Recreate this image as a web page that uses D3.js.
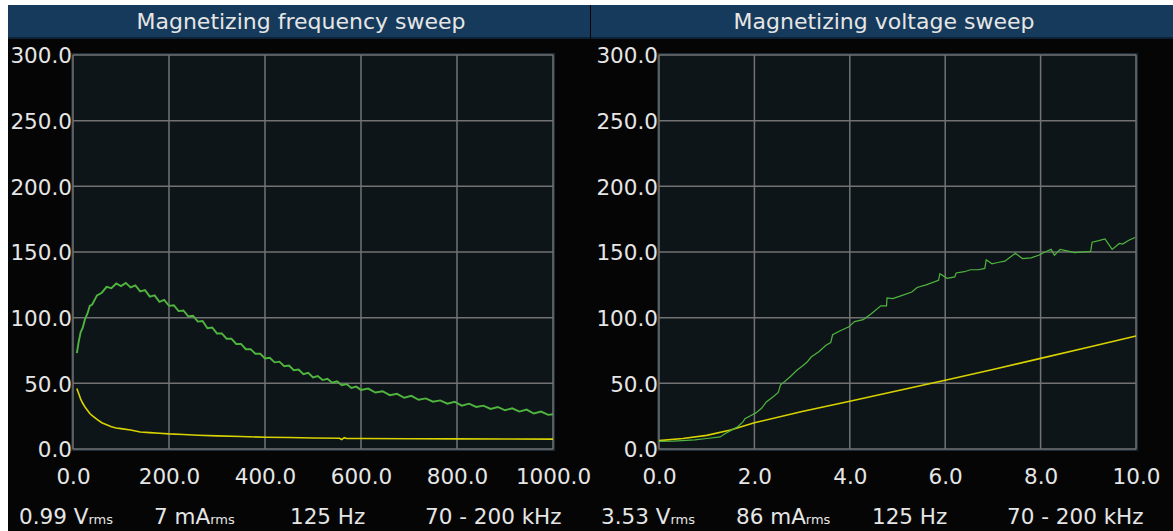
<!DOCTYPE html>
<html>
<head>
<meta charset="utf-8">
<script src="https://cdn.jsdelivr.net/npm/d3@7"></script>
<style>
  body { margin: 0; background: #fff; }
  svg { display: block; font-family: "DejaVu Sans", sans-serif; }
</style>
</head>
<body>
<svg id="canvas" width="1173" height="531"></svg>
<script>
// ---- data ----
let titles = ['Magnetizing frequency sweep', 'Magnetizing voltage sweep'];
let yTicks = [0, 50, 100, 150, 200, 250, 300];
let freqTicks = [0, 200, 400, 600, 800, 1000];
let voltTicks = [0, 2, 4, 6, 8, 10];

let freqGreenX = [8, 12, 16, 20, 25, 30, 35, 40, 50, 60, 70, 80, 90, 100, 110, 120, 130, 140, 150, 160,
    170, 180, 190, 200, 210, 220, 230, 240, 250, 260, 270, 280, 290, 300, 310, 320, 330, 340, 350, 360,
    370, 380, 390, 400, 410, 420, 430, 440, 450, 460, 470, 480, 490, 500, 510, 520, 530, 540, 550, 560,
    570, 580, 590, 600, 615, 630, 645, 660, 675, 690, 705, 720, 735, 750, 765, 780, 795, 810, 825, 840,
    855, 870, 885, 900, 915, 930, 945, 960, 975, 990, 1000];
let freqGreenY = [73, 82, 89, 92, 99, 103, 109, 110, 117, 119, 123.5, 122.5, 126, 124, 126.5, 123, 124.5, 120, 121, 116,
    117, 112, 113.5, 109, 109.5, 105, 105.5, 101, 101.5, 97, 97.5, 92, 92.5, 88, 88, 84, 84, 80, 80, 76,
    76, 72.5, 72.5, 69, 69.5, 66, 66.5, 63, 63.5, 60, 60.5, 57, 58, 54.5, 55.5, 52.5, 53.5, 50.5, 51.5, 48.5,
    49.5, 46.5, 47.5, 45, 46, 43, 44, 41, 42, 39, 40.5, 37.5, 38.5, 36, 37, 34.5, 36, 33, 34.5, 32,
    33, 30.5, 32, 29.5, 31, 28.5, 30, 27, 28.5, 26, 26.5];

let freqYellowX = [8, 12, 16, 20, 25, 30, 35, 40, 50, 60, 70, 80, 90, 100, 120, 140, 160, 180, 200, 230,
    260, 300, 350, 400, 450, 500, 555, 560, 565, 570, 600, 700, 800, 900, 1000];
let freqYellowY = [46, 42, 38, 35, 32, 29.5, 27, 25.5, 22.5, 20, 18.5, 17, 16, 15.5, 14.5, 13, 12.5, 12, 11.5, 11,
    10.5, 10, 9.5, 9, 8.7, 8.4, 8.2, 7.2, 8.6, 8, 8, 7.8, 7.7, 7.6, 7.5];

let voltGreenX = [0, 0.3, 0.75, 1.0, 1.28, 1.4, 1.5, 1.65, 1.76, 1.8, 1.9, 2.03, 2.15, 2.25, 2.4, 2.5, 2.55, 2.59,
    2.75, 2.89, 3.0, 3.1, 3.19, 3.35, 3.5, 3.6, 3.64, 3.8, 3.98, 4.1, 4.28, 4.45, 4.65, 4.77, 4.78, 4.9,
    5.1, 5.3, 5.41, 5.6, 5.86, 5.89, 6.04, 6.2, 6.23, 6.4, 6.53, 6.7, 6.83, 6.86, 6.98, 7.1, 7.25, 7.47,
    7.62, 7.8, 7.96, 8.15, 8.22, 8.29, 8.41, 8.6, 8.71, 9.05, 9.08, 9.2, 9.35, 9.5, 9.65, 9.72, 9.85, 9.98];
let voltGreenY = [5.8, 6, 7, 8, 9.2, 12, 14, 17, 20.6, 23, 25, 27.5, 31, 35.8, 40, 43, 49, 50,
    55, 60, 63, 66, 70, 74, 79, 81, 87, 90, 93, 97, 98.5, 103, 109, 109, 115, 114.5,
    117, 119.5, 123, 125, 128.5, 133.5, 130, 131, 134, 135, 136.5, 136.5, 137.5, 144, 141, 142, 143, 149,
    145, 145.5, 147.5, 151, 152, 147.5, 152, 150.5, 149.5, 150.5, 157.5, 158.5, 160, 152, 156.5, 156, 159, 161];

let voltYellowX = [0, 0.5, 1, 1.5, 2, 3, 4, 5, 6, 7, 8, 9, 10];
let voltYellowY = [6.4, 8, 10.4, 14.5, 20, 28.5, 36.4, 44.3, 52.4, 60.6, 69, 77.5, 86];

let infoFreq = [['0.99 V', 'rms'], ['7 mA', 'rms'], ['125 Hz', ''], ['70 - 200 kHz', '']];
let infoVolt = [['3.53 V', 'rms'], ['86 mA', 'rms'], ['125 Hz', ''], ['70 - 200 kHz', '']];

// ---- drawing ----
let canvas = d3.select('#canvas');
let textColor = '#e6e6e6';

canvas.append('rect')
    .attr('x', 8).attr('y', 5).attr('width', 1165).attr('height', 526)
    .attr('fill', '#050505');

let panels = [
    {title: titles[0], x0: 8, x1: 590, left: 73, right: 553, xMax: 1000, ticks: freqTicks, infoX: 0,
        info: infoFreq,
        green: d3.zip(freqGreenX, freqGreenY), yellow: d3.zip(freqYellowX, freqYellowY), greenW: 1.9},
    {title: titles[1], x0: 591, x1: 1173, left: 659, right: 1136, xMax: 10, ticks: voltTicks, infoX: 582,
        info: infoVolt,
        green: d3.zip(voltGreenX, voltGreenY), yellow: d3.zip(voltYellowX, voltYellowY), greenW: 1.2}
];

let plotTop = 55, plotBottom = 449;
let y = d3.scaleLinear().domain([0, 300]).range([plotBottom, plotTop]);

panels.forEach((p) => {
    // title bar
    canvas.append('rect')
        .attr('x', p.x0).attr('y', 5).attr('width', p.x1 - p.x0).attr('height', 33)
        .attr('fill', '#163a5b');
    canvas.append('rect')
        .attr('x', p.x0).attr('y', 37).attr('width', p.x1 - p.x0).attr('height', 2)
        .attr('fill', '#0d2236');
    canvas.append('text')
        .attr('x', (p.x0 + p.x1) / 2 + 2).attr('y', 29)
        .attr('text-anchor', 'middle')
        .attr('font-size', 22)
        .attr('fill', textColor)
        .text(p.title);

    let x = d3.scaleLinear().domain([0, p.xMax]).range([p.left, p.right]);

    // plot area
    canvas.append('rect')
        .attr('x', p.left - 1).attr('y', plotTop - 1)
        .attr('width', p.right - p.left + 2).attr('height', plotBottom - plotTop + 2)
        .attr('fill', '#0e1519')
        .attr('stroke', '#1b2c38').attr('stroke-width', 2);

    // grid
    let grid = canvas.append('g');
    grid.selectAll('line.v')
        .data(p.ticks)
        .enter()
        .append('line')
        .attr('x1', (d) => x(d)).attr('x2', (d) => x(d))
        .attr('y1', plotTop).attr('y2', plotBottom)
        .attr('stroke', '#727272').attr('stroke-width', 1.5);
    grid.selectAll('line.h')
        .data(yTicks)
        .enter()
        .append('line')
        .attr('x1', p.left).attr('x2', p.right)
        .attr('y1', (d) => y(d)).attr('y2', (d) => y(d))
        .attr('stroke', '#727272').attr('stroke-width', 1.5);

    // axes (labels only)
    let yAxis = canvas.append('g')
        .attr('transform', 'translate(' + (p.left - 1) + ',0)')
        .call(d3.axisLeft(y).tickValues(yTicks).tickFormat(d3.format('.1f')).tickSize(0).tickPadding(0));
    let xAxis = canvas.append('g')
        .attr('transform', 'translate(0,' + (plotBottom + 20) + ')')
        .call(d3.axisBottom(x).tickValues(p.ticks).tickFormat(d3.format('.1f')).tickSize(0).tickPadding(0));
    [yAxis, xAxis].forEach((a) => {
        a.select('.domain').remove();
        a.selectAll('text')
            .attr('font-family', '"DejaVu Sans", sans-serif')
            .attr('font-size', 21.5)
            .attr('fill', textColor);
    });
    yAxis.selectAll('text').attr('dy', '0.36em');
    xAxis.selectAll('text').attr('dy', '0.71em');

    // series
    let line = d3.line()
        .x((d) => x(d[0]))
        .y((d) => y(d[1]));
    canvas.append('path')
        .attr('d', line(p.yellow))
        .attr('fill', 'none')
        .attr('stroke', '#d8d200')
        .attr('stroke-width', 1.6);
    canvas.append('path')
        .attr('d', line(p.green))
        .attr('fill', 'none')
        .attr('stroke', '#4fb53e')
        .attr('stroke-width', p.greenW);

    // info line
    let offsets = [19, 154, 290, 425];
    p.info.forEach((item, i) => {
        let t = canvas.append('text')
            .attr('x', p.infoX + offsets[i]).attr('y', 524)
            .attr('font-size', 21.5)
            .attr('fill', textColor);
        t.append('tspan').text(item[0]);
        if (item[1]) {
            t.append('tspan').attr('font-size', 13).text(item[1]);
        }
    });
});
</script>
</body>
</html>
